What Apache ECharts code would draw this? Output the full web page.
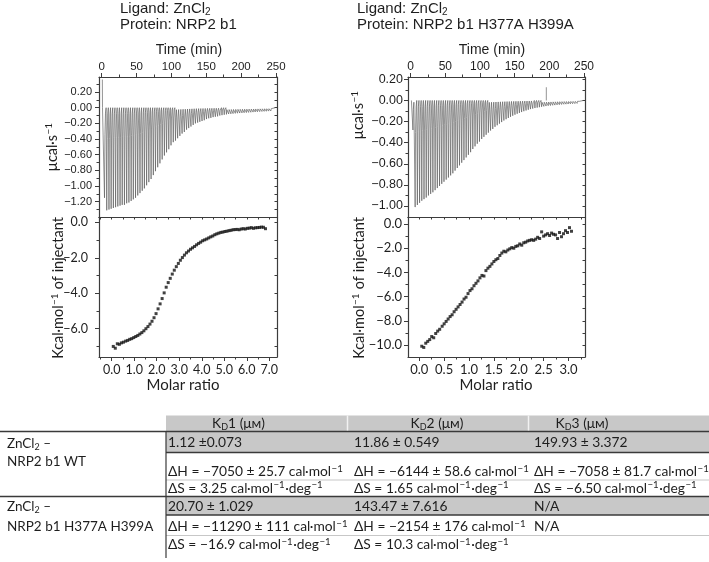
<!DOCTYPE html>
<html><head><meta charset="utf-8">
<script src="https://cdn.jsdelivr.net/npm/echarts@6/dist/echarts.min.js"></script>
<style>html,body{margin:0;padding:0;background:#fff;}#c{width:709px;height:562px;}</style>
</head><body><div id="c"></div>
<script>
// ---------------- DATA ----------------
// Left: ZnCl2 into NRP2 b1 (WT)
const leftInjTimes = [3.7,6.9,10.1,13.2,16.4,19.6,22.8,26.0,29.1,32.3,35.5,38.7,41.9,45.0,48.2,51.4,54.6,57.8,60.9,64.1,67.3,70.5,73.7,76.8,80.0,83.2,86.4,89.6,92.7,95.9,99.1,102.3,105.5,108.6,111.8,115.0,118.2,121.4,124.5,127.7,130.9,134.1,137.3,140.4,143.6,146.8,150.0,153.2,156.3,159.5,162.7,165.9,169.1,172.2,175.4,178.6,181.8,185.0,188.1,191.3,194.5,197.7,200.9,204.0,207.2,210.4,213.6,216.8,219.9,223.1,226.3,229.5,232.7,235.8,239.0,242.2];
const leftInjPeaks = [-1.15,-1.31,-1.30,-1.29,-1.28,-1.27,-1.26,-1.25,-1.24,-1.24,-1.22,-1.21,-1.19,-1.17,-1.15,-1.12,-1.09,-1.06,-1.03,-0.99,-0.95,-0.91,-0.86,-0.81,-0.76,-0.71,-0.66,-0.61,-0.57,-0.53,-0.48,-0.44,-0.42,-0.39,-0.36,-0.33,-0.31,-0.28,-0.26,-0.24,-0.22,-0.20,-0.19,-0.18,-0.17,-0.16,-0.145,-0.135,-0.13,-0.12,-0.115,-0.11,-0.10,-0.095,-0.09,-0.085,-0.08,-0.078,-0.075,-0.072,-0.07,-0.068,-0.066,-0.064,-0.062,-0.06,-0.058,-0.056,-0.054,-0.052,-0.05,-0.048,-0.046,-0.045,-0.043,-0.042];
const leftTraceStart = [[0.9,0.36],[1.1,0.0]];
const leftTraceEnd = [[249.0,0.0]];
const leftMolarRatio = [0.07,0.16,0.25,0.34,0.43,0.52,0.62,0.71,0.80,0.89,0.98,1.07,1.16,1.25,1.34,1.43,1.52,1.61,1.70,1.79,1.88,1.97,2.06,2.15,2.24,2.33,2.42,2.51,2.60,2.69,2.78,2.87,2.96,3.05,3.14,3.23,3.32,3.41,3.50,3.59,3.68,3.77,3.86,3.95,4.04,4.13,4.22,4.31,4.40,4.49,4.58,4.67,4.76,4.85,4.94,5.03,5.12,5.21,5.30,5.39,5.48,5.57,5.66,5.75,5.84,5.93,6.02,6.11,6.20,6.29,6.38,6.47,6.56,6.65,6.74,6.83];
const leftHeat = [-7.00,-7.10,-6.85,-6.88,-6.80,-6.76,-6.70,-6.66,-6.60,-6.56,-6.50,-6.44,-6.38,-6.30,-6.22,-6.12,-6.00,-5.88,-5.74,-5.58,-5.38,-5.15,-4.88,-4.60,-4.30,-3.98,-3.66,-3.40,-3.16,-2.92,-2.70,-2.50,-2.32,-2.14,-1.99,-1.85,-1.72,-1.62,-1.52,-1.44,-1.36,-1.27,-1.19,-1.12,-1.04,-0.99,-0.94,-0.88,-0.82,-0.77,-0.70,-0.65,-0.61,-0.57,-0.55,-0.52,-0.50,-0.47,-0.45,-0.42,-0.41,-0.40,-0.42,-0.38,-0.36,-0.38,-0.34,-0.33,-0.30,-0.34,-0.31,-0.30,-0.29,-0.27,-0.28,-0.36];

// Right: ZnCl2 into NRP2 b1 H377A H399A
const rightInjTimes = [2.9,6.1,9.3,12.5,15.7,18.9,22.1,25.3,28.5,31.7,34.9,38.1,41.3,44.5,47.7,50.9,54.1,57.3,60.5,63.7,66.9,70.1,73.3,76.5,79.7,82.9,86.1,89.3,92.5,95.7,98.9,102.1,105.3,108.5,111.7,114.9,118.1,121.3,124.5,127.7,130.9,134.1,137.3,140.5,143.7,146.9,150.1,153.3,156.5,159.7,162.9,166.1,169.3,172.5,175.7,178.9,182.1,185.3,188.5,191.7,194.9,198.1,201.3,204.5,207.7,210.9,214.1,217.3,220.5,223.7,226.9,230.1,233.3,236.5,239.7,242.9];
const rightInjPeaks = [-0.28,-1.01,-0.99,-0.97,-0.95,-0.935,-0.92,-0.90,-0.885,-0.87,-0.85,-0.83,-0.81,-0.79,-0.77,-0.75,-0.73,-0.71,-0.69,-0.665,-0.64,-0.615,-0.59,-0.565,-0.54,-0.515,-0.49,-0.46,-0.435,-0.41,-0.39,-0.365,-0.345,-0.325,-0.305,-0.285,-0.27,-0.25,-0.235,-0.22,-0.205,-0.19,-0.178,-0.166,-0.155,-0.145,-0.135,-0.126,-0.118,-0.11,-0.102,-0.095,-0.088,-0.082,-0.077,-0.072,-0.068,-0.064,-0.06,-0.056,-0.053,-0.05,-0.048,-0.046,-0.044,-0.042,-0.04,-0.038,-0.036,-0.035,-0.034,-0.032,-0.031,-0.03,-0.028,-0.027];
const rightTraceStart = [[1.0,0.0]];
const rightTraceEnd = [[249.0,0.0]];
const rightArtifact = [[195.6,0.0],[195.6,0.125]];
const rightMolarRatio = [0.05,0.09,0.13,0.17,0.21,0.25,0.29,0.33,0.37,0.41,0.46,0.50,0.54,0.58,0.62,0.66,0.70,0.74,0.78,0.82,0.86,0.90,0.94,0.98,1.02,1.06,1.10,1.14,1.18,1.22,1.26,1.30,1.34,1.38,1.42,1.46,1.50,1.54,1.58,1.62,1.66,1.70,1.74,1.78,1.82,1.86,1.90,1.94,1.98,2.02,2.06,2.10,2.14,2.18,2.22,2.26,2.30,2.34,2.38,2.42,2.46,2.50,2.54,2.58,2.62,2.66,2.70,2.74,2.78,2.82,2.86,2.90,2.94,2.98,3.02,3.06];
const rightHeat = [-10.10,-10.20,-9.85,-9.70,-9.55,-9.30,-9.40,-9.05,-8.85,-8.70,-8.45,-8.25,-8.05,-7.85,-7.65,-7.50,-7.25,-7.05,-6.85,-6.65,-6.45,-6.20,-6.05,-5.75,-5.50,-5.35,-5.10,-4.90,-4.70,-4.45,-4.25,-4.30,-3.85,-3.65,-3.50,-3.30,-3.10,-2.95,-2.85,-2.60,-2.40,-2.25,-2.30,-2.15,-2.05,-1.95,-2.00,-1.85,-1.80,-1.65,-1.75,-1.55,-1.50,-1.40,-1.35,-1.30,-1.35,-1.25,-1.10,-1.20,-0.65,-1.00,-0.90,-0.80,-0.95,-0.75,-0.85,-0.90,-1.20,-0.70,-1.05,-0.80,-0.55,-0.70,-0.30,-0.60];

// Tick values
const timeTicks = [0,50,100,150,200,250];
const timeMinor = [25,75,125,175,225];
const leftPowerTicks = [0.2,0,-0.2,-0.4,-0.6,-0.8,-1.0,-1.2];
const leftPowerMinor = [0.3,0.1,-0.1,-0.3,-0.5,-0.7,-0.9,-1.1,-1.3];
const leftRatioTicks = [0,1,2,3,4,5,6,7];
const leftRatioMinor = [-0.5,0.5,1.5,2.5,3.5,4.5,5.5,6.5];
const leftHeatTicks = [0,-2,-4,-6];
const leftHeatMinor = [-1,-3,-5,-7];
const rightPowerTicks = [0.2,0,-0.2,-0.4,-0.6,-0.8,-1.0];
const rightPowerMinor = [0.1,-0.1,-0.3,-0.5,-0.7,-0.9];
const rightRatioTicks = [0,0.5,1,1.5,2,2.5,3];
const rightRatioMinor = [0.25,0.75,1.25,1.75,2.25,2.75,3.25];
const rightHeatTicks = [0,-2,-4,-6,-8,-10];
const rightHeatMinor = [-1,-3,-5,-7,-9];

// Texts
const ligandText = 'Ligand: ZnCl';
const proteinTitles = ['Protein: NRP2 b1', 'Protein: NRP2 b1 H377A H399A'];
const timeTitle = 'Time (min)';
const powerTitle = 'µcal·s';
const heatTitle = ['Kcal·mol', ' of injectant'];
const ratioTitle = 'Molar ratio';

// Table
const kdHeaders = ['1 (μм)','2 (μм)','3 (μм)'];
const rowLabels = [['ZnCl₂ –','NRP2 b1 WT'],['ZnCl₂ –','NRP2 b1 H377A H399A']];
const kdValues = [['1.12 ±0.073','11.86 ± 0.549','149.93 ± 3.372'],['20.70 ± 1.029','143.47 ± 7.616','N/A']];
const dHValues = [['ΔH = −7050 ± 25.7 cal·mol⁻¹','ΔH = −6144 ± 58.6 cal·mol⁻¹','ΔH = −7058 ± 81.7 cal·mol⁻¹'],['ΔH = −11290 ± 111 cal·mol⁻¹','ΔH = −2154 ± 176 cal·mol⁻¹','N/A']];
const dSValues = [['ΔS = 3.25 cal·mol⁻¹·deg⁻¹','ΔS = 1.65 cal·mol⁻¹·deg⁻¹','ΔS = −6.50 cal·mol⁻¹·deg⁻¹'],['ΔS = −16.9 cal·mol⁻¹·deg⁻¹','ΔS = 10.3 cal·mol⁻¹·deg⁻¹','']];

// ---------------- STYLE / BUILD ----------------
const FRAME = '#3c3c3c';
const TXT = '#1e1e1e';
const ARIAL = '"Liberation Sans", Arial, sans-serif';
const CAL = 'Lato, "Noto Sans", sans-serif';
const minus = s => String(s).replace(/-/g, '−');

function thermogram(times, peaks, start, end) {
  const d = start.slice();
  for (let i = 0; i < times.length; i++) {
    const t = times[i], p = peaks[i];
    d.push([t, 0], [t + 0.3, p], [t + 0.9, p * 0.3], [t + 1.7, p * 0.06], [t + 2.6, 0]);
  }
  return d.concat(end);
}
const zip = (a, b) => a.map((v, i) => [v, b[i]]);

const grids = [
  {left: 99, top: 77, width: 178, height: 140},
  {left: 99, top: 217, width: 178, height: 140},
  {left: 408, top: 77, width: 177, height: 140},
  {left: 408, top: 217, width: 177, height: 140}
];
const ranges = [
  {x: [-3.9, 251.4], y: [-1.395, 0.392]},
  {x: [-0.564, 7.342], y: [-7.596, 0.299]},
  {x: [-3.9, 251.4], y: [-1.104, 0.222]},
  {x: [-0.227, 3.332], y: [-10.99, 0.579]}
];

const xAxes = [], yAxes = [];
function axis(list, g, dim, pos, o) {
  const r = ranges[g][dim];
  list.push({
    type: 'value', gridIndex: g, position: pos, min: r[0], max: r[1],
    axisLine: {show: !!o.line, onZero: false, lineStyle: {color: FRAME, width: 1.2}},
    axisTick: {show: !!o.ticks, inside: !!o.inside, length: o.len || 4,
      customValues: o.ticks || [], lineStyle: {color: FRAME, width: 1}},
    axisLabel: {show: !!o.labels, customValues: o.labels || [], formatter: o.fmt,
      margin: o.margin || 5, color: TXT, fontSize: o.fs || 11, fontFamily: o.ff || ARIAL,
      showMinLabel: true, showMaxLabel: true},
    splitLine: {show: false}, minorTick: {show: false}
  });
  return list.length - 1;
}
const f2 = v => minus(v.toFixed(2));
const f1 = v => minus(v.toFixed(1));
const f0 = v => String(v);

// grid 0 : left thermogram
const x0 = axis(xAxes, 0, 'x', 'top', {line: 1, ticks: timeTicks, labels: timeTicks, fmt: f0, fs: 11.5, margin: 4});
axis(xAxes, 0, 'x', 'top', {ticks: timeMinor, len: 2.5});
axis(xAxes, 0, 'x', 'bottom', {line: 1});
const y0 = axis(yAxes, 0, 'y', 'left', {line: 1, ticks: leftPowerTicks, labels: leftPowerTicks, fmt: f2, fs: 11, margin: 7});
axis(yAxes, 0, 'y', 'left', {ticks: leftPowerMinor, len: 2.5});
axis(yAxes, 0, 'y', 'right', {line: 1, ticks: leftPowerTicks.concat(leftPowerMinor), inside: 1, len: 2.5});
// grid 1 : left isotherm
const x1 = axis(xAxes, 1, 'x', 'bottom', {line: 1, ticks: leftRatioTicks, labels: leftRatioTicks, fmt: f1, fs: 12.5, ff: CAL, margin: 6});
axis(xAxes, 1, 'x', 'bottom', {ticks: leftRatioMinor, len: 2.5});
axis(xAxes, 1, 'x', 'top', {line: 1, ticks: leftRatioTicks.concat(leftRatioMinor), inside: 1, len: 2.5});
const y1 = axis(yAxes, 1, 'y', 'left', {line: 1, ticks: leftHeatTicks, labels: leftHeatTicks, fmt: f1, fs: 12.5, ff: CAL, margin: 11});
axis(yAxes, 1, 'y', 'left', {ticks: leftHeatMinor, len: 2.5});
axis(yAxes, 1, 'y', 'right', {line: 1, ticks: leftHeatTicks.concat(leftHeatMinor), inside: 1, len: 2.5});
// grid 2 : right thermogram
const x2 = axis(xAxes, 2, 'x', 'top', {line: 1, ticks: timeTicks, labels: timeTicks, fmt: f0, fs: 12, margin: 4});
axis(xAxes, 2, 'x', 'top', {ticks: timeMinor, len: 2.5});
axis(xAxes, 2, 'x', 'bottom', {line: 1});
const y2 = axis(yAxes, 2, 'y', 'left', {line: 1, ticks: rightPowerTicks, labels: rightPowerTicks, fmt: f2, fs: 12.5, margin: 5});
axis(yAxes, 2, 'y', 'left', {ticks: rightPowerMinor, len: 2.5});
axis(yAxes, 2, 'y', 'right', {line: 1, ticks: rightPowerTicks.concat(rightPowerMinor), inside: 1, len: 2.5});
// grid 3 : right isotherm
const x3 = axis(xAxes, 3, 'x', 'bottom', {line: 1, ticks: rightRatioTicks, labels: rightRatioTicks, fmt: f1, fs: 13, ff: CAL, margin: 6});
axis(xAxes, 3, 'x', 'bottom', {ticks: rightRatioMinor, len: 2.5});
axis(xAxes, 3, 'x', 'top', {line: 1, ticks: rightRatioTicks.concat(rightRatioMinor), inside: 1, len: 2.5});
const y3 = axis(yAxes, 3, 'y', 'left', {line: 1, ticks: rightHeatTicks, labels: rightHeatTicks, fmt: f1, fs: 13, ff: CAL, margin: 6});
axis(yAxes, 3, 'y', 'left', {ticks: rightHeatMinor, len: 2.5});
axis(yAxes, 3, 'y', 'right', {line: 1, ticks: rightHeatTicks.concat(rightHeatMinor), inside: 1, len: 2.5});

const thermoLine = {type: 'line', showSymbol: false, symbol: 'none', clip: true, animation: false,
  lineStyle: {color: '#5a5a5a', width: 0.65}};
const isoPts = {type: 'scatter', symbol: 'rect', symbolSize: 3, animation: false,
  itemStyle: {color: '#111'}};

const series = [
  Object.assign({}, thermoLine, {xAxisIndex: x0, yAxisIndex: y0, data: thermogram(leftInjTimes, leftInjPeaks, leftTraceStart, leftTraceEnd)}),
  Object.assign({}, isoPts, {xAxisIndex: x1, yAxisIndex: y1, data: zip(leftMolarRatio, leftHeat)}),
  Object.assign({}, thermoLine, {xAxisIndex: x2, yAxisIndex: y2, data: thermogram(rightInjTimes, rightInjPeaks, rightTraceStart, rightTraceEnd)}),
  Object.assign({}, thermoLine, {xAxisIndex: x2, yAxisIndex: y2, data: rightArtifact}),
  Object.assign({}, isoPts, {xAxisIndex: x3, yAxisIndex: y3, data: zip(rightMolarRatio, rightHeat)})
];

// -------- graphic: titles, axis names, table --------
const G = [];
function txt(x, y, text, font, opts) {
  opts = opts || {};
  G.push({type: 'text', x: x, y: y, rotation: opts.rot || 0, silent: true,
    style: {text: text, font: font, fill: opts.fill || TXT,
      align: opts.align || 'left', verticalAlign: opts.va || 'middle',
      textAlign: opts.align || 'left', textVerticalAlign: opts.va || 'middle', rich: opts.rich}});
}
function rect(x, y, w, h, fill) {
  G.push({type: 'rect', silent: true, shape: {x: x, y: y, width: w, height: h}, style: {fill: fill}});
}
function line(x1, y1, x2, y2, stroke, w) {
  G.push({type: 'line', silent: true, shape: {x1: x1, y1: y1, x2: x2, y2: y2}, style: {stroke: stroke, lineWidth: w}});
}
// rich-text helpers: superscript "−1" and subscripts
function richSet(font, size, lh, supScale) {
  const ss = Math.round(size * (supScale || 0.68) * 10) / 10;
  return {
    n: {font: size + 'px ' + font, fill: TXT, lineHeight: lh, verticalAlign: 'middle'},
    s: {font: ss + 'px ' + font, fill: TXT, lineHeight: lh, verticalAlign: 'top', padding: [0, 0.5, 0, 0.5]},
    d: {font: Math.round(size * 0.68) + 'px ' + font, fill: TXT, lineHeight: lh, verticalAlign: 'bottom'}
  };
}
function supText(str) {
  return str.split(/(⁻¹|₂)/).filter(s => s.length).map(s =>
    s === '⁻¹' ? '{s|−1}' : s === '₂' ? '{d|2}' : '{n|' + s + '}').join('');
}

// panel titles
const TT = richSet(ARIAL, 15, 17);
txt(120, 8.5, supText(ligandText + '₂'), '15px ' + ARIAL, {rich: TT});
txt(120, 25, '{n|' + proteinTitles[0] + '}', '15px ' + ARIAL, {rich: TT});
txt(357, 8.5, supText(ligandText + '₂'), '15px ' + ARIAL, {rich: TT});
txt(357, 25, '{n|' + proteinTitles[1] + '}', '15px ' + ARIAL, {rich: TT});
// axis names
txt(189, 50, timeTitle, '14px ' + ARIAL, {align: 'center'});
txt(492, 50, timeTitle, '14px ' + ARIAL, {align: 'center'});
const AT = richSet(CAL, 14.5, 17);
txt(52, 147, '{n|' + powerTitle + '}{s|−1}', '14.5px ' + CAL, {align: 'center', rot: Math.PI / 2, rich: AT});
txt(358, 115, '{n|' + powerTitle + '}{s|−1}', '14.5px ' + CAL, {align: 'center', rot: Math.PI / 2, rich: AT});
txt(58, 288, '{n|' + heatTitle[0] + '}{s|−1}{n|' + heatTitle[1] + '}', '14.5px ' + CAL, {align: 'center', rot: Math.PI / 2, rich: AT});
txt(359, 288, '{n|' + heatTitle[0] + '}{s|−1}{n|' + heatTitle[1] + '}', '14.5px ' + CAL, {align: 'center', rot: Math.PI / 2, rich: AT});
txt(183, 385, ratioTitle, '15px ' + CAL, {align: 'center'});
txt(496, 385, ratioTitle, '15px ' + CAL, {align: 'center'});

// table
const LF = '13.5px ' + CAL;
const LR = richSet(CAL, 13.5, 16);
const TF = '13.8px ' + CAL;
const TR = richSet(CAL, 13.8, 16, 0.7);
const GRAY = '#c8c8c8';
const textX = [168, 354, 534];
const headerCX = [238.5, 437, 582];
rect(166, 415.5, 543, 16, GRAY);
line(347.5, 415.5, 347.5, 431.5, '#f2f2f2', 1.5);
line(528.5, 415.5, 528.5, 431.5, '#f2f2f2', 1.5);
for (let c = 0; c < 3; c++) {
  txt(headerCX[c], 423.5, '{n|K}{d|D}{n|' + kdHeaders[c] + '}', TF, {align: 'center', rich: TR});
}
const rowTop = [431.5, 496.5];
const grayBottom = [452.5, 515];
const labelY = [[443.3, 461.7], [506.7, 526.7]];
const kdY = [442.7, 506.3];
const dHY = [471.7, 526.7];
const dSY = [488.3, 545];
const thinY = [480, 535.5];
for (let r = 0; r < 2; r++) {
  rect(166, rowTop[r], 543, grayBottom[r] - rowTop[r], GRAY);
  line(166, thinY[r], 709, thinY[r], '#b9b9b9', 0.8);
  line(166, grayBottom[r], 709, grayBottom[r], '#3a3a3a', 1.6);
  txt(7, labelY[r][0], supText(rowLabels[r][0]), LF, {rich: LR});
  txt(7, labelY[r][1], supText(rowLabels[r][1]), LF, {rich: LR});
  for (let c = 0; c < 3; c++) {
    txt(textX[c], kdY[r], supText(kdValues[r][c]), TF, {rich: TR});
    txt(textX[c], dHY[r], supText(dHValues[r][c]), TF, {rich: TR});
    if (dSValues[r][c]) txt(textX[c], dSY[r], supText(dSValues[r][c]), TF, {rich: TR});
  }
}
line(0, 431.5, 709, 431.5, '#3a3a3a', 1.6);
line(0, 496.5, 709, 496.5, '#3a3a3a', 1.6);
line(166, 431.5, 166, 558, '#3a3a3a', 1.2);

const chart = echarts.init(document.getElementById('c'), null, {renderer: 'canvas'});
chart.setOption({
  backgroundColor: '#ffffff',
  animation: false,
  grid: grids,
  xAxis: xAxes,
  yAxis: yAxes,
  series: series,
  graphic: {elements: G}
});
</script></body></html>
